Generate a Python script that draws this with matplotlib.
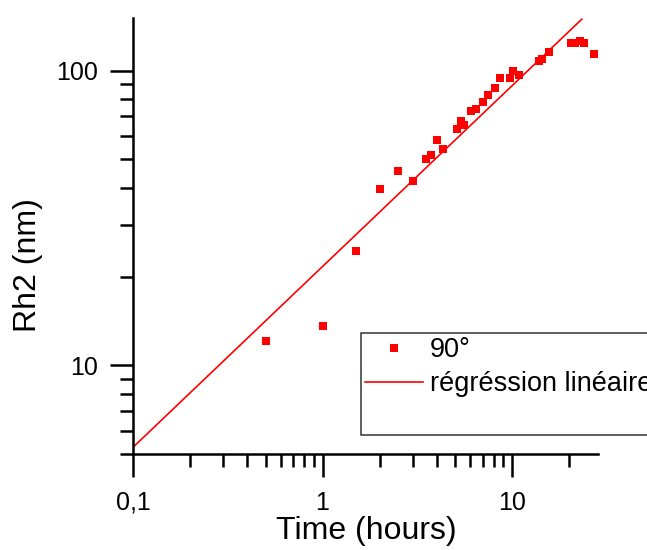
import matplotlib
matplotlib.use('Agg')
import matplotlib.pyplot as plt
from matplotlib.lines import Line2D
from matplotlib.ticker import LogLocator, NullFormatter

plt.rcParams['font.family'] = ['Liberation Sans', 'DejaVu Sans']

# Measured points (angle 90 degrees)
time_h = [0.5, 1, 1.5, 2, 2.5, 3, 3.5, 3.75, 4, 4.33, 5.1, 5.4, 5.6, 6.05, 6.45,
          7, 7.5, 8.15, 8.6, 9.7, 10.1, 10.9, 13.9, 14.3, 15.7, 20.4, 21.6, 22.9, 24, 27]
rh2 = [12.1, 13.6, 24.5, 39.8, 45.7, 42.4, 50.2, 51.6, 58.0, 54.3, 63.4, 67.5, 65.6, 73.0, 74.0,
       78.3, 82.7, 87.4, 94.7, 94.2, 99.5, 96.5, 107.9, 110, 115.7, 124, 124.5, 126, 124, 114.2]

# Linear regression line (log-log), end points
fit_x = [0.1, 23.3]
fit_y = [5.27, 149.5]

x_ticks = [0.1, 1, 10]
x_tick_labels = ['0,1', '1', '10']
y_ticks = [10, 100]
y_tick_labels = ['10', '100']

fig = plt.figure(figsize=(6.47, 5.5), dpi=100)
ax = fig.add_axes([0.2056, 0.1745, 0.7187, 0.7928])

pts, = ax.plot(time_h, rh2, 's', color='#ff0000', markersize=5.6, markeredgewidth=0,
               linestyle='none', label='90°', zorder=3)
fit, = ax.plot(fit_x, fit_y, '-', color='#ff0000', linewidth=1.2, label='régréssion linéaire')

ax.set_xscale('log')
ax.set_yscale('log')
ax.set_xlim(0.1, 28.4)
ax.set_ylim(5, 151)

for s in ['top', 'right']:
    ax.spines[s].set_visible(False)
for s in ['left', 'bottom']:
    ax.spines[s].set_linewidth(1.8)

ax.set_xticks(x_ticks)
ax.set_xticklabels(x_tick_labels)
ax.set_yticks(y_ticks)
ax.set_yticklabels(y_tick_labels)
ax.xaxis.set_minor_locator(LogLocator(base=10, subs=range(2, 10)))
ax.yaxis.set_minor_locator(LogLocator(base=10, subs=range(2, 10)))
ax.xaxis.set_minor_formatter(NullFormatter())
ax.yaxis.set_minor_formatter(NullFormatter())
ax.tick_params(which='major', direction='out', length=16.5, width=1.8, labelsize=18)
ax.tick_params(which='minor', direction='out', length=9.4, width=1.8)
ax.tick_params(axis='x', which='major', pad=10)
ax.tick_params(axis='y', which='major', pad=9)

ax.set_xlabel('Time (hours)', fontsize=23, va='center', ha='center')
ax.xaxis.set_label_coords(0.501, -0.176)
ax.set_ylabel('Rh2 (nm)', fontsize=23, va='center', ha='center')
ax.yaxis.set_label_coords(-0.226, 0.4335)

blank = Line2D([], [], linestyle='none')
leg = ax.legend(handles=[pts, fit, blank], labels=['90°', 'régréssion linéaire', ' '],
                loc='upper left', bbox_to_anchor=(361 / 647, 1 - 333 / 550),
                bbox_transform=fig.transFigure, borderaxespad=0, borderpad=0.15,
                handlelength=2.15, handletextpad=0.25, labelspacing=0.3,
                numpoints=1, fontsize=19.5, fancybox=False, framealpha=1)
leg.get_frame().set_edgecolor('#333333')
leg.get_frame().set_linewidth(1.1)

fig.savefig('out.png', dpi=100)
